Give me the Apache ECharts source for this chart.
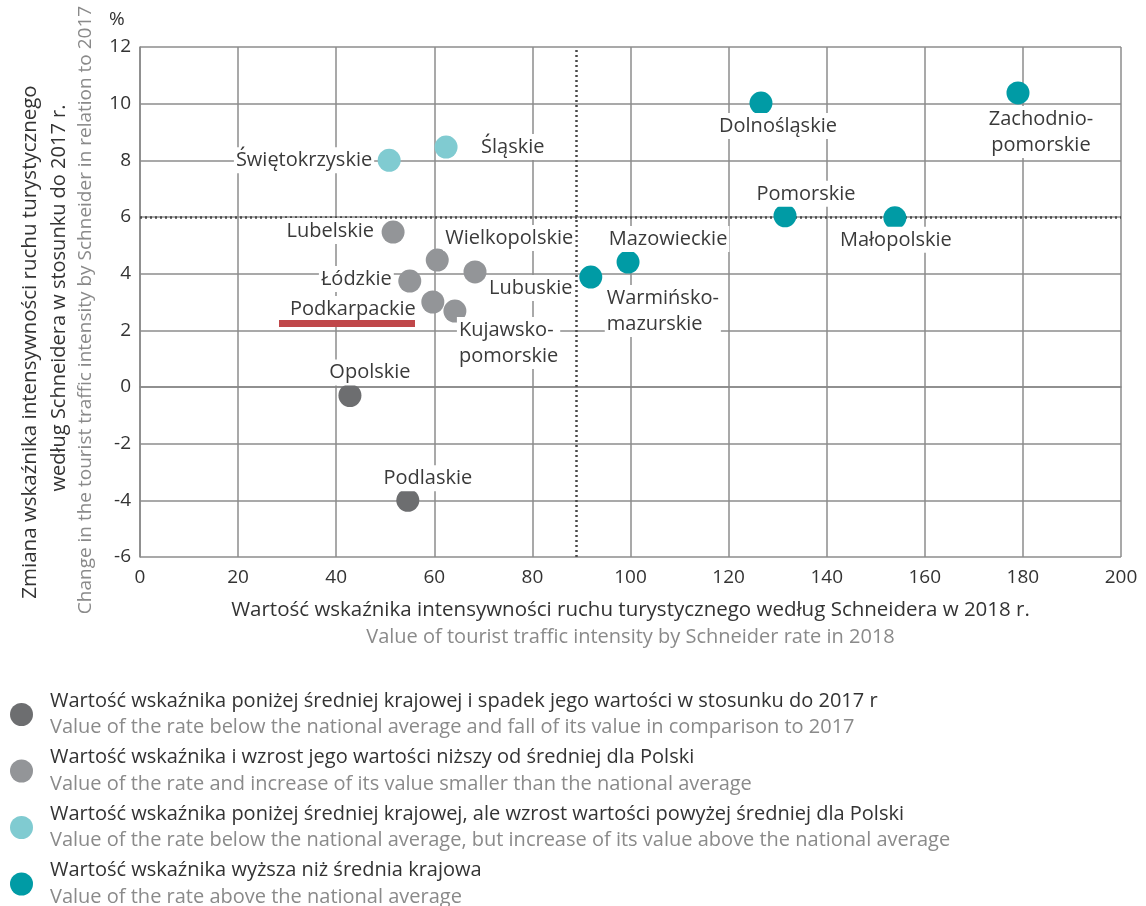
<!DOCTYPE html>
<html>
<head>
<meta charset="utf-8">
<script src="https://cdn.jsdelivr.net/npm/echarts@6/dist/echarts.min.js"></script>
<style>html,body{margin:0;padding:0;background:#fff}#c{width:1146px;height:906px}</style>
</head>
<body>
<div id="c"></div>
<script>
// ---- data ----
const fallNames = ['Opolskie', 'Podlaskie'];
const fallX = [42.8, 54.6];
const fallY = [-0.3, -4.0];

const lowNames = ['Lubelskie', 'Wielkopolskie', 'Lubuskie', 'Łódzkie', 'Podkarpackie', 'Kujawsko-\npomorskie'];
const lowX = [51.6, 60.6, 68.3, 55.0, 59.7, 64.2];
const lowY = [5.47, 4.48, 4.06, 3.74, 3.0, 2.68];

const riseNames = ['Świętokrzyskie', 'Śląskie'];
const riseX = [50.8, 62.4];
const riseY = [8.0, 8.47];

const highNames = ['Dolnośląskie', 'Zachodnio-\npomorskie', 'Pomorskie', 'Małopolskie', 'Mazowieckie', 'Warmińsko-\nmazurskie'];
const highX = [126.6, 179.0, 131.5, 153.9, 99.5, 91.9];
const highY = [10.02, 10.38, 6.04, 5.97, 4.41, 3.88];

const avgX = 88.9;   // national average of the rate
const avgY = 6.0;    // national average of the change

const xTicks = [0, 20, 40, 60, 80, 100, 120, 140, 160, 180, 200];
const yTicks = [-6, -4, -2, 0, 2, 4, 6, 8, 10, 12];

const yTitlePL1 = 'Zmiana wskaźnika intensywności ruchu turystycznego';
const yTitlePL2 = 'według Schneidera w stosunku do 2017 r.';
const yTitleEN = 'Change in the tourist traffic intensity by Schneider in relation to 2017';

const seriesNamesPL = [
  'Wartość wskaźnika poniżej średniej krajowej i spadek jego wartości w stosunku do 2017 r',
  'Wartość wskaźnika i wzrost jego wartości niższy od średniej dla Polski',
  'Wartość wskaźnika poniżej średniej krajowej, ale wzrost wartości powyżej średniej dla Polski',
  'Wartość wskaźnika wyższa niż średnia krajowa'
];
const seriesNamesEN = [
  'Value of the rate below the national average and fall of its value in comparison to 2017',
  'Value of the rate and increase of its value smaller than the national average',
  'Value of the rate below the national average, but increase of its value above the national average',
  'Value of the rate above the national average'
];

// ---- label placement (style, not data) ----
const labelPlacement = {
  'Opolskie': {align: 'center', dx: 20, dy: -23},
  'Podlaskie': {align: 'center', dx: 20, dy: -22},
  'Lubelskie': {align: 'right', dx: -17, dy: -1},
  'Wielkopolskie': {align: 'left', dx: 6, dy: -22},
  'Lubuskie': {align: 'left', dx: 12, dy: 16},
  'Łódzkie': {align: 'right', dx: -16, dy: -2},
  'Podkarpackie': {align: 'right', dx: -15, dy: 7},
  'Kujawsko-\npomorskie': {align: 'left', dx: 2, dy: 32},
  'Świętokrzyskie': {align: 'right', dx: -15, dy: 0},
  'Śląskie': {align: 'left', dx: 33, dy: 0},
  'Dolnośląskie': {align: 'center', dx: 17, dy: 23},
  'Zachodnio-\npomorskie': {align: 'center', dx: 23, dy: 39},
  'Pomorskie': {align: 'center', dx: 21, dy: -22},
  'Małopolskie': {align: 'center', dx: 1, dy: 22},
  'Mazowieckie': {align: 'center', dx: 40, dy: -23},
  'Warmińsko-\nmazurskie': {align: 'left', dx: 14, dy: 34}
};

const FONT = '"Open Sans", sans-serif';
const colors = ['#6d6e70', '#939598', '#80cbd1', '#009ba5'];

const groups = [
  [fallNames, fallX, fallY],
  [lowNames, lowX, lowY],
  [riseNames, riseX, riseY],
  [highNames, highX, highY]
];

const series = groups.map((g, gi) => ({
  type: 'scatter',
  name: seriesNamesPL[gi],
  data: g[0].map((n, i) => ({name: n, value: [g[1][i], g[2][i]]})),
  symbolSize: 23,
  itemStyle: {color: colors[gi], opacity: 1},
  z: 5,
  label: {
    show: true,
    position: 'inside',
    formatter: p => p.name,
    color: '#3a3a3a',
    fontFamily: FONT,
    fontSize: 20,
    lineHeight: 26,
    backgroundColor: '#fff',
    padding: [0, 2]
  },
  labelLayout: params => {
    const n = groups[params.seriesIndex][0][params.dataIndex];
    const p = labelPlacement[n] || {align: 'center', dx: 0, dy: 0};
    return {dx: p.dx, dy: p.dy, align: p.align, verticalAlign: 'middle', hideOverlap: false};
  },
  emphasis: {disabled: true}
}));

series.push({
  type: 'scatter',
  data: [],
  silent: true,
  markLine: {
    silent: true,
    symbol: 'none',
    label: {show: false},
    lineStyle: {color: '#4a4a4a', type: [2, 3], width: 2.5},
    z: 3,
    data: [{xAxis: avgX}, {yAxis: avgY}]
  }
});

const chart = echarts.init(document.getElementById('c'), null, {renderer: 'canvas'});
chart.setOption({
  animation: false,
  backgroundColor: '#fff',
  grid: {left: 140, right: 25, top: 47, bottom: 349, containLabel: false, outerBoundsMode: 'none'},
  xAxis: {
    type: 'value',
    min: xTicks[0], max: xTicks[xTicks.length - 1], interval: 20,
    axisLine: {show: true, lineStyle: {color: '#888', width: 1.5}},
    axisTick: {show: false},
    splitLine: {show: true, lineStyle: {color: '#8c8c8c', width: 1.5}},
    axisLabel: {color: '#333', fontFamily: FONT, fontSize: 19, margin: 11},
    name: '{a|Wartość wskaźnika intensywności ruchu turystycznego według Schneidera w 2018 r.}\n{b|Value of tourist traffic intensity by Schneider rate in 2018}',
    nameLocation: 'middle',
    nameGap: 40,
    nameTextStyle: {rich: {
      a: {color: '#333', fontFamily: FONT, fontSize: 20.5, lineHeight: 27},
      b: {color: '#8a8a8a', fontFamily: FONT, fontSize: 20, lineHeight: 27}
    }}
  },
  yAxis: {
    type: 'value',
    min: yTicks[0], max: yTicks[yTicks.length - 1], interval: 2,
    axisLine: {show: true, lineStyle: {color: '#888', width: 1.5}},
    axisTick: {show: false},
    splitLine: {show: true, lineStyle: {color: '#8c8c8c', width: 1.5}},
    axisLabel: {color: '#333', fontFamily: FONT, fontSize: 19, margin: 9}
  },
  legend: {
    orient: 'vertical',
    left: 5,
    top: 686,
    height: 320,
    itemWidth: 23,
    itemHeight: 23,
    itemGap: 10,
    icon: 'circle',
    selectedMode: false,
    data: seriesNamesPL,
    formatter: n => '{a|' + n + '}\n{b|' + seriesNamesEN[seriesNamesPL.indexOf(n)] + '}',
    textStyle: {
      padding: [0, 0, 0, 12],
      rich: {
        a: {color: '#333', fontFamily: FONT, fontSize: 20, lineHeight: 26},
        b: {color: '#8a8a8a', fontFamily: FONT, fontSize: 20, lineHeight: 27}
      }
    }
  },
  graphic: [
    {type: 'text', x: 30, y: 342, rotation: Math.PI / 2,
     style: {text: yTitlePL1, fill: '#333', font: '20.5px ' + FONT, align: 'center', verticalAlign: 'middle'}},
    {type: 'text', x: 59, y: 298, rotation: Math.PI / 2,
     style: {text: yTitlePL2, fill: '#333', font: '20px ' + FONT, align: 'center', verticalAlign: 'middle'}},
    {type: 'text', x: 86, y: 310, rotation: Math.PI / 2,
     style: {text: yTitleEN, fill: '#8a8a8a', font: '19px ' + FONT, align: 'center', verticalAlign: 'middle'}},
    {type: 'text', left: 109, top: 10, style: {text: '%', fill: '#333', font: '19px ' + FONT}},
    {type: 'text', left: 0, top: -17, style: {text: 'ska', fill: '#4a86c8', font: 'bold 22px ' + FONT}},
    {type: 'rect', left: 279, top: 320, shape: {width: 136, height: 7}, style: {fill: '#c0474a'}, z: 10}
  ],
  series: series
});
</script>
</body>
</html>
